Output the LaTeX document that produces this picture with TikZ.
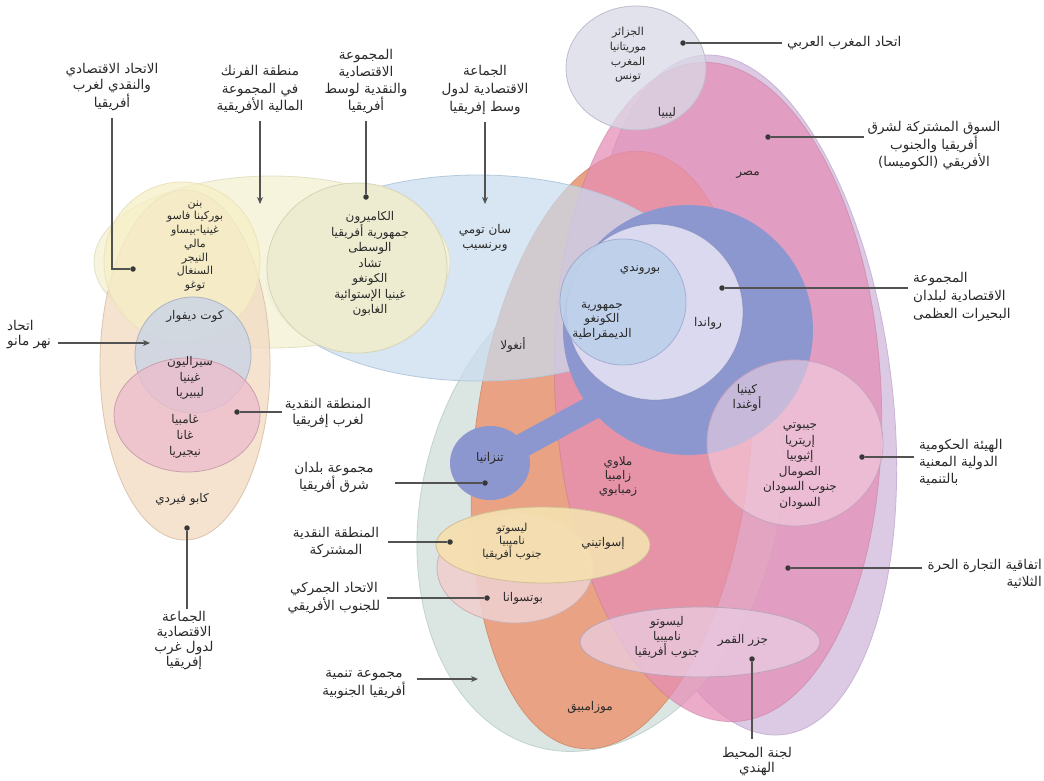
\documentclass[tikz,border=0pt]{standalone}
\usepackage{fontspec}
\newfontfamily\arabicfont[Script=Arabic]{DejaVu Sans}
\TeXXeTstate=1
\usetikzlibrary{arrows.meta}
\newcommand\ar[1]{\beginR #1\endR}
\definecolor{triC}{HTML}{DCCAE4}\definecolor{triB}{HTML}{C9B3D6}
\definecolor{sadcC}{HTML}{DBE5E2}\definecolor{sadcB}{HTML}{BFD3D0}
\definecolor{orC}{HTML}{E9A283}
\definecolor{comC}{HTML}{E58CB5}
\definecolor{sacuC}{HTML}{EFCFCF}\definecolor{cmaC}{HTML}{F5E0B0}
\definecolor{coiC}{HTML}{E9CDE3}
\definecolor{eccC}{HTML}{C9DCEE}\definecolor{eccB}{HTML}{B3C9DE}
\definecolor{eacC}{HTML}{8D97CF}\definecolor{cepC}{HTML}{DAD9EF}\definecolor{burC}{HTML}{BDD0EA}
\definecolor{igaC}{HTML}{F5D5E3}\definecolor{igaB}{HTML}{C6A3BE}
\definecolor{amuC}{HTML}{D9D9E6}\definecolor{amuB}{HTML}{BDBDCF}
\definecolor{frcC}{HTML}{F6F3DA}\definecolor{frcB}{HTML}{E3E0C6}
\definecolor{ecwC}{HTML}{F3DBC3}\definecolor{uemC}{HTML}{F6EFC6}
\definecolor{mruC}{HTML}{CCD5E4}\definecolor{wamC}{HTML}{EEBCCD}
\definecolor{cemC}{HTML}{EDECD0}\definecolor{cemB}{HTML}{D6D4B6}
\definecolor{inkC}{HTML}{2A2A2A}
\begin{document}
\begin{tikzpicture}[x=1pt,y=-1pt,
  lbl/.style={font=\arabicfont\fontsize{13.5}{#1}\selectfont, align=center, text=inkC, inner sep=1pt},
  lbl/.default=16,
  ctry/.style={font=\arabicfont\fontsize{12}{#1}\selectfont, align=center, text=inkC, inner sep=0pt},
  ctry/.default=14,
  ctrys/.style={font=\arabicfont\fontsize{11}{#1}\selectfont, align=center, text=inkC, inner sep=0pt},
  con/.style={draw=black!68, line width=1.3pt},
  conar/.style={con, -{Stealth[length=7pt,width=6pt]}},
  dotn/.style={circle, fill=black!78, inner sep=0pt, minimum size=5.5pt},
  shp/.style={line width=0.8pt}]
\useasboundingbox (0,0) rectangle (1044,780);
\fill[white] (0,0) rectangle (1044,780);

% ---- southern / eastern shapes
\path[shp, fill=triC, draw=triB, rotate around={7:(742,395)}] (742,395) ellipse [x radius=150, y radius=342];
\path[shp, fill=sadcC, draw=sadcB, rotate around={-14:(600,505)}] (600,505) ellipse [x radius=178, y radius=250];
\path[shp, fill=orC, draw=orC!90!black, rotate around={-6:(612,450)}] (612,450) ellipse [x radius=138, y radius=300];
\path[shp, fill=comC, fill opacity=0.72, draw=comC!80!black, draw opacity=0.4, rotate around={3:(718,392)}] (718,392) ellipse [x radius=163, y radius=330];
\path[shp, fill=sacuC, fill opacity=0.9, draw=sacuC!85!black] (515,568) ellipse [x radius=78, y radius=55];
\path[shp, fill=cmaC, fill opacity=0.92, draw=cmaC!85!black] (543,545) ellipse [x radius=107, y radius=38];
\path[shp, fill=coiC, fill opacity=0.75, draw=coiC!80!black] (700,642) ellipse [x radius=120, y radius=35];
% ECCAS
\path[shp, fill=eccC, fill opacity=0.72, draw=eccB] (478,278) ellipse [x radius=212, y radius=103];
% EAC
\fill[eacC] (688,330) circle [radius=125];
\draw[eacC, line width=24pt] (610,398) -- (492,462);
\fill[eacC] (490,463) ellipse [x radius=40, y radius=37];
\path[shp, fill=cepC, draw=eacC!80!black, draw opacity=0.4] (655,312) circle [radius=88];
\path[shp, fill=burC, fill opacity=0.9, draw=eacC!90!black, draw opacity=0.5] (623,302) circle [radius=63];
% IGAD
\path[shp, fill=igaC, fill opacity=0.55, draw=igaB] (795,443) ellipse [x radius=88, y radius=83];
% AMU
\path[shp, fill=amuC, fill opacity=0.75, draw=amuB] (636,68) ellipse [x radius=70, y radius=62];

% ---- west / central shapes
\path[shp, fill=frcC, fill opacity=0.9, draw=frcB] (272,262) ellipse [x radius=178, y radius=86];
\path[shp, fill=ecwC, fill opacity=0.8, draw=ecwC!90!black] (185,365) ellipse [x radius=85, y radius=175];
\path[shp, fill=uemC, fill opacity=0.75, draw=uemC!95!black] (182,262) ellipse [x radius=78, y radius=80];
\path[shp, fill=cemC, draw=cemB] (357,268) ellipse [x radius=90, y radius=85];
\path[shp, fill=mruC, fill opacity=0.85, draw=mruC!85!black] (193,355) circle [radius=58];
\path[shp, fill=wamC, fill opacity=0.75, draw=wamC!85!black] (187,415) ellipse [x radius=73, y radius=57];

% ---- country names
\node[ctrys=13.7] (cUEM) at (195,246) {\ar{بنن}\\\ar{بوركينا فاسو}\\\ar{غينيا-بيساو}\\\ar{مالي}\\\ar{النيجر}\\\ar{السنغال}\\\ar{توغو}};
\node[ctry] (cCIV) at (195,316) {\ar{كوت ديفوار}};
\node[ctry=15.5] (cMRU) at (190,378) {\ar{سيراليون}\\\ar{غينيا}\\\ar{ليبيريا}};
\node[ctry=16] (cWAM) at (185,436) {\ar{غامبيا}\\\ar{غانا}\\\ar{نيجيريا}};
\node[ctry] (cCPV) at (182,499) {\ar{كابو فيردي}};
\node[ctry=15.5] (cCEM) at (370,264) {\ar{الكاميرون}\\\ar{جمهورية أفريقيا}\\\ar{الوسطى}\\\ar{تشاد}\\\ar{الكونغو}\\\ar{غينيا الإستوائية}\\\ar{الغابون}};
\node[ctry=15] (cSTP) at (485,238) {\ar{سان تومي}\\\ar{وبرنسيب}};
\node[ctrys=14.7] (cAMU) at (628,55) {\ar{الجزائر}\\\ar{موريتانيا}\\\ar{المغرب}\\\ar{تونس}};
\node[ctry] (cLBY) at (667,113) {\ar{ليبيا}};
\node[ctry] (cEGY) at (748,175) {\ar{مصر}};
\node[ctry] (cBDI) at (640,270) {\ar{بوروندي}};
\node[ctry=14.5] (cCOD) at (602,321) {\ar{جمهورية}\\\ar{الكونغو}\\\ar{الديمقراطية}};
\node[ctry] (cRWA) at (708,323) {\ar{رواندا}};
\node[ctry] (cAGO) at (513,345) {\ar{أنغولا}};
\node[ctry=15] (cKEN) at (747,398) {\ar{كينيا}\\\ar{أوغندا}};
\node[ctry=15.6] (cIGA) at (800,466) {\ar{جيبوتي}\\\ar{إريتريا}\\\ar{إثيوبيا}\\\ar{الصومال}\\\ar{جنوب السودان}\\\ar{السودان}};
\node[ctry] (cTZA) at (490,458) {\ar{تنزانيا}};
\node[ctry=14] (cMWI) at (618,476) {\ar{ملاوي}\\\ar{زامبيا}\\\ar{زمبابوي}};
\node[ctrys=13] (cCMA) at (512,542) {\ar{ليسوتو}\\\ar{ناميبيا}\\\ar{جنوب أفريقيا}};
\node[ctry] (cSWZ) at (603,543) {\ar{إسواتيني}};
\node[ctry] (cBWA) at (523,598) {\ar{بوتسوانا}};
\node[ctry=15] (cCOI) at (667,637) {\ar{ليسوتو}\\\ar{ناميبيا}\\\ar{جنوب أفريقيا}};
\node[ctry] (cCOM) at (743,640) {\ar{جزر القمر}};
\node[ctry] (cMOZ) at (590,707) {\ar{موزامبيق}};

% ---- labels
\node[lbl=16.5] (lUEM) at (112,87) {\ar{الاتحاد الاقتصادي}\\\ar{والنقدي لغرب}\\\ar{أفريقيا}};
\node[lbl=17.5] (lFRC) at (260,90) {\ar{منطقة الفرنك}\\\ar{في المجموعة}\\\ar{المالية الأفريقية}};
\node[lbl=17] (lCEM) at (366,82) {\ar{المجموعة}\\\ar{الاقتصادية}\\\ar{والنقدية لوسط}\\\ar{أفريقيا}};
\node[lbl=18] (lECC) at (485,90) {\ar{الجماعة}\\\ar{الاقتصادية لدول}\\\ar{وسط إفريقيا}};
\node[lbl, anchor=west] (lAMU) at (786,43) {\ar{اتحاد المغرب العربي}};
\node[lbl=17.5] (lCOM) at (934,146) {\ar{السوق المشتركة لشرق}\\\ar{أفريقيا والجنوب}\\\ar{الأفريقي (الكوميسا)}};
\node[lbl=18, anchor=west, align=left] (lCEP) at (912,297) {\ar{المجموعة}\\\ar{الاقتصادية لبلدان}\\\ar{البحيرات العظمى}};
\node[lbl=17, anchor=west, align=left] (lIGA) at (918,462) {\ar{الهيئة الحكومية}\\\ar{الدولية المعنية}\\\ar{بالتنمية}};
\node[lbl=17, anchor=east, align=right] (lTRI) at (1043,574) {\ar{اتفاقية التجارة الحرة}\\\ar{الثلاثية}};
\node[lbl=15, anchor=west, align=left] (lMRU) at (6,335) {\ar{اتحاد}\\\ar{نهر مانو}};
\node[lbl=16] (lWAM) at (328,413) {\ar{المنطقة النقدية}\\\ar{لغرب إفريقيا}};
\node[lbl=17] (lEAC) at (334,478) {\ar{مجموعة بلدان}\\\ar{شرق أفريقيا}};
\node[lbl=17] (lCMA) at (336,543) {\ar{المنطقة النقدية}\\\ar{المشتركة}};
\node[lbl=15.5] (lSAC) at (334,598) {\ar{الاتحاد الجمركي}\\\ar{للجنوب الأفريقي}};
\node[lbl=15.5] (lSAD) at (364,685) {\ar{مجموعة تنمية}\\\ar{أفريقيا الجنوبية}};
\node[lbl=15] (lECW) at (184,641) {\ar{الجماعة}\\\ar{الاقتصادية}\\\ar{لدول غرب}\\\ar{إفريقيا}};
\node[lbl=15] (lCOI) at (757,762) {\ar{لجنة المحيط}\\\ar{الهندي}};

% ---- connector end points
\node[dotn] (dUEM) at (133,269) {};
\coordinate (aFRC) at (260,204);
\node[dotn] (dCEM) at (366,197) {};
\coordinate (aECC) at (485,204);
\node[dotn] (dAMU) at (683,43) {};
\node[dotn] (dCOM) at (768,137) {};
\node[dotn] (dCEP) at (722,288) {};
\node[dotn] (dIGA) at (862,457) {};
\node[dotn] (dTRI) at (788,568) {};
\node[dotn] (dCOI) at (752,659) {};
\node[dotn] (dECW) at (187,528) {};
\coordinate (aMRU) at (150,343);
\node[dotn] (dWAM) at (237,412) {};
\node[dotn] (dEAC) at (485,483) {};
\node[dotn] (dCMA) at (450,542) {};
\node[dotn] (dSAC) at (487,598) {};
\coordinate (aSAD) at (478,679);

% ---- connectors
\draw[con, shorten <=6pt] (lUEM.south) |- (dUEM);
\draw[conar, shorten <=6pt] (lFRC.south) -- (aFRC);
\draw[con, shorten <=6pt] (lCEM.south) -- (dCEM);
\draw[conar, shorten <=6pt] (lECC.south) -- (aECC);
\draw[con, shorten <=4pt] (lAMU.west) -- (dAMU);
\draw[con, shorten <=2pt] (lCOM.west |- dCOM) -- (dCOM);
\draw[con, shorten <=4pt] (lCEP.west |- dCEP) -- (dCEP);
\draw[con, shorten <=4pt] (lIGA.west |- dIGA) -- (dIGA);
\draw[con, shorten <=4pt] (lTRI.west |- dTRI) -- (dTRI);
\draw[con, shorten <=8pt] (dCOI |- lCOI.north) -- (dCOI);
\draw[con, shorten <=2pt] (dECW |- lECW.north) -- (dECW);
\draw[conar, shorten <=6pt] (lMRU.east |- aMRU) -- (aMRU);
\draw[con, shorten <=2pt] (lWAM.west |- dWAM) -- (dWAM);
\draw[con, shorten <=20pt] (lEAC.east |- dEAC) -- (dEAC);
\draw[con, shorten <=8pt] (lCMA.east |- dCMA) -- (dCMA);
\draw[con, shorten <=6pt] (lSAC.east |- dSAC) -- (dSAC);
\draw[conar, shorten <=10pt] (lSAD.east |- aSAD) -- (aSAD);
\end{tikzpicture}
\end{document}
